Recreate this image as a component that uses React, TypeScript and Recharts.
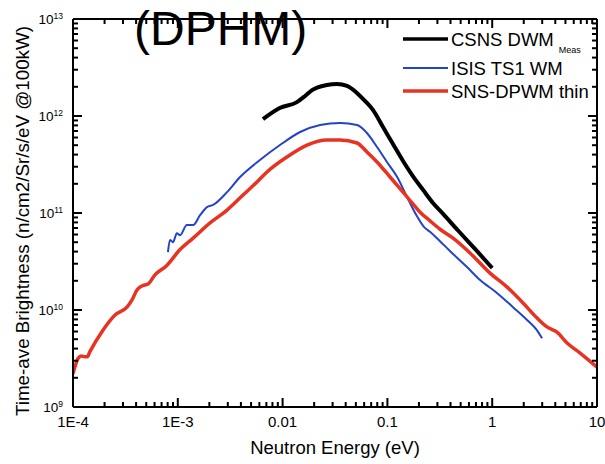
import React from 'react';
import { LineChart, Line, XAxis, YAxis, Legend } from 'recharts';

// CSNS DWM (measured)
const csnsEnergy = [0.0065, 0.0094, 0.0137, 0.0164, 0.0191, 0.0265, 0.033, 0.0412, 0.0524, 0.0611, 0.073, 0.0908, 0.113, 0.141, 0.175, 0.219, 0.272, 0.34, 0.472, 0.686, 1.0];
const csnsBrightness = [9.3e11, 1.21e12, 1.39e12, 1.61e12, 1.85e12, 2.09e12, 2.14e12, 2.04e12, 1.69e12, 1.43e12, 1.15e12, 7.7e11, 5.14e11, 3.44e11, 2.4e11, 1.73e11, 1.27e11, 9.8e10, 6.6e10, 4.26e10, 2.71e10];

// ISIS TS1 WM
const isisEnergy = [8.05e-4, 8.43e-4, 9.0e-4, 9.8e-4, 1.05e-3, 1.22e-3, 1.4e-3, 1.63e-3, 1.9e-3, 2.17e-3, 2.95e-3, 3.93e-3, 6.08e-3, 9.44e-3, 0.0147, 0.0228, 0.0353, 0.0513, 0.0638, 0.0796, 0.099, 0.124, 0.154, 0.191, 0.223, 0.255, 0.297, 0.395, 0.575, 0.766, 1.11, 1.58, 2.15, 2.67, 2.99];
const isisBrightness = [3.96e10, 5.27e10, 5.0e10, 6.2e10, 5.9e10, 7.5e10, 7.5e10, 9.5e10, 1.15e11, 1.21e11, 1.64e11, 2.35e11, 3.52e11, 5.02e11, 6.84e11, 8.07e11, 8.47e11, 8.07e11, 6.68e11, 4.79e11, 3.36e11, 2.35e11, 1.46e11, 9.3e10, 7.2e10, 6.4e10, 5.5e10, 4.06e10, 2.77e10, 2.04e10, 1.5e10, 1.07e10, 7.9e9, 6.2e9, 5.1e9];

// SNS-DPWM thin
const snsEnergy = [1.0e-4, 1.12e-4, 1.2e-4, 1.3e-4, 1.37e-4, 1.45e-4, 1.93e-4, 2.52e-4, 3.27e-4, 3.66e-4, 4.08e-4, 4.55e-4, 5.2e-4, 6.05e-4, 7.9e-4, 1.05e-3, 1.4e-3, 2.03e-3, 2.95e-3, 4.19e-3, 5.7e-3, 7.1e-3, 0.011, 0.0171, 0.0265, 0.0353, 0.0513, 0.0638, 0.0796, 0.106, 0.141, 0.172, 0.205, 0.255, 0.318, 0.423, 0.614, 0.953, 1.38, 1.97, 2.67, 3.33, 4.15, 5.18, 6.9, 10];
const snsBrightness = [2.2e9, 3.18e9, 3.36e9, 3.3e9, 3.3e9, 3.72e9, 6.2e9, 8.9e9, 1.07e10, 1.27e10, 1.61e10, 1.77e10, 1.85e10, 2.3e10, 2.9e10, 4.2e10, 5.5e10, 7.9e10, 1.07e11, 1.53e11, 2.09e11, 2.65e11, 3.78e11, 5.02e11, 5.66e11, 5.66e11, 5.27e11, 4.26e11, 3.36e11, 2.35e11, 1.64e11, 1.27e11, 1.02e11, 8.3e10, 6.8e10, 5.5e10, 3.87e10, 2.4e10, 1.73e10, 1.18e10, 8.3e9, 6.7e9, 5.9e9, 4.57e9, 3.6e9, 2.58e9];

const xMajorTicks = [1e-4, 1e-3, 0.01, 0.1, 1, 10];
const xTickLabels = ['1E-4', '1E-3', '0.01', '0.1', '1', '10'];
const yMajorTicks = [1e9, 1e10, 1e11, 1e12, 1e13];
const yTickExponents = ['9', '10', '11', '12', '13'];

const FONT = "Arial, 'Liberation Sans', Helvetica, sans-serif";

const W = 605;
const H = 464;
const LEFT_W = 73;
const RIGHT_W = 8;
const TOP_H = 19;
const BOTTOM_H = 57;

const toRows = (es: number[], bs: number[]) => es.map((e, i) => ({ e, b: bs[i] }));
const csnsData = toRows(csnsEnergy, csnsBrightness);
const isisData = toRows(isisEnergy, isisBrightness);
const snsData = toRows(snsEnergy, snsBrightness);

// major decades plus 2..9 minor ticks in between
const withMinor = (majors: number[]) => {
  const out: number[] = [];
  majors.forEach((m, i) => {
    out.push(m);
    if (i < majors.length - 1) for (let k = 2; k <= 9; k++) out.push(k * m);
  });
  return out;
};
const xTicks = withMinor(xMajorTicks);
const yTicks = withMinor(yMajorTicks);

const majorIndex = (majors: number[], v: number) =>
  majors.findIndex((m) => Math.abs(m - v) / m < 1e-6);

// bottom axis: inward tick, matching tick hanging from the top frame, label
const BottomTick = (props: any) => {
  const { x, y, payload } = props;
  const idx = majorIndex(xMajorTicks, payload.value);
  const len = idx >= 0 ? 9 : 5;
  return (
    <g>
      <path d={`M${x},${y}V${y - len}`} stroke="#000" strokeWidth={2} fill="none" />
      <path d={`M${x},${TOP_H}V${TOP_H + len}`} stroke="#000" strokeWidth={2} fill="none" />
      {idx >= 0 && (
        <text x={x} y={y + 20} textAnchor="middle" fontSize={15} fill="#000" stroke="none" fontFamily={FONT}>
          {xTickLabels[idx]}
        </text>
      )}
    </g>
  );
};

// left axis: inward tick, matching tick on the right frame, label
const LeftTick = (props: any) => {
  const { x, y, payload } = props;
  const idx = majorIndex(yMajorTicks, payload.value);
  const len = idx >= 0 ? 9 : 5;
  const right = W - RIGHT_W;
  return (
    <g>
      <path d={`M${x},${y}H${x + len}`} stroke="#000" strokeWidth={2} fill="none" />
      <path d={`M${right},${y}H${right - len}`} stroke="#000" strokeWidth={2} fill="none" />
      {idx >= 0 && (
        <text x={x - 10} y={y + 5} textAnchor="end" fontSize={13.5} fill="#000" stroke="none" fontFamily={FONT}>
          10
          <tspan dy={-5} fontSize={8.5}>{yTickExponents[idx]}</tspan>
        </text>
      )}
    </g>
  );
};

const legendRows = [
  { lineY: 14, textY: 21, width: 3.5 },
  { lineY: 43, textY: 50, width: 2.2 },
  { lineY: 66, textY: 73, width: 3.5 },
];

const LegendBox = (props: any) => {
  const items = props.payload || [];
  return (
    <svg width={205} height={85} style={{ display: 'block' }}>
      {items.map((it: any, i: number) => {
        const r = legendRows[i];
        return (
          <g key={it.value}>
            <line x1={3} x2={48} y1={r.lineY} y2={r.lineY} stroke={it.color} strokeWidth={r.width} />
            <text x={51} y={r.textY} fontSize={18.5} fill="#000" fontFamily={FONT}>
              {it.value}
              {i === 0 && (
                <tspan dx={5} dy={7} fontSize={9}>Meas</tspan>
              )}
            </text>
          </g>
        );
      })}
    </svg>
  );
};

export default function App() {
  return (
    <div style={{ position: 'absolute', left: 0, top: 0, width: W, height: H, background: '#fff', fontFamily: FONT }}>
      <LineChart width={W} height={H} margin={{ top: 0, right: 0, bottom: 0, left: 0 }}>
        <XAxis
          xAxisId="b"
          dataKey="e"
          type="number"
          scale="log"
          domain={[1e-4, 10]}
          allowDataOverflow
          ticks={xTicks}
          interval={0}
          height={BOTTOM_H}
          tickSize={0}
          tickMargin={0}
          tickLine={false}
          axisLine={{ stroke: '#000', strokeWidth: 2 }}
          tick={BottomTick}
          label={{ value: 'Neutron Energy (eV)', position: 'insideBottom', offset: 10, style: { fontSize: 18.5, fill: '#000', fontFamily: FONT } }}
        />
        <XAxis
          xAxisId="t"
          orientation="top"
          type="number"
          scale="log"
          domain={[1e-4, 10]}
          allowDataOverflow
          height={TOP_H}
          tick={false}
          tickLine={false}
          axisLine={{ stroke: '#000', strokeWidth: 2 }}
        />
        <YAxis
          yAxisId="l"
          type="number"
          scale="log"
          domain={[1e9, 1e13]}
          allowDataOverflow
          ticks={yTicks}
          interval={0}
          width={LEFT_W}
          tickSize={0}
          tickMargin={0}
          tickLine={false}
          axisLine={{ stroke: '#000', strokeWidth: 2 }}
          tick={LeftTick}
          label={{
            value: 'Time-ave Brightness (n/cm2/Sr/s/eV @100kW)',
            angle: -90,
            position: 'insideLeft',
            offset: 22,
            dy: 8,
            style: { textAnchor: 'middle', fontSize: 18.8, fill: '#000', fontFamily: FONT },
          }}
        />
        <YAxis
          yAxisId="r"
          orientation="right"
          type="number"
          scale="log"
          domain={[1e9, 1e13]}
          allowDataOverflow
          width={RIGHT_W}
          tick={false}
          tickLine={false}
          axisLine={{ stroke: '#000', strokeWidth: 2 }}
        />
        <Legend
          layout="vertical"
          align="center"
          verticalAlign="middle"
          wrapperStyle={{ left: 400, top: 25, width: 205 }}
          content={<LegendBox />}
        />
        <Line xAxisId="b" yAxisId="l" name="CSNS DWM" data={csnsData} dataKey="b" type="monotone" stroke="#000000" strokeWidth={4} dot={false} isAnimationActive={false} />
        <Line xAxisId="b" yAxisId="l" name="ISIS TS1 WM" data={isisData} dataKey="b" type="monotone" stroke="#2343cc" strokeWidth={2} dot={false} isAnimationActive={false} />
        <Line xAxisId="b" yAxisId="l" name="SNS-DPWM thin" data={snsData} dataKey="b" type="monotone" stroke="#e83322" strokeWidth={3.5} dot={false} isAnimationActive={false} />
      </LineChart>
      <svg width={W} height={H} style={{ position: 'absolute', left: 0, top: 0, pointerEvents: 'none' }}>
        <text x={134} y={45} fontSize={48} fill="#000" fontFamily={FONT}>(DPHM)</text>
      </svg>
    </div>
  );
}
